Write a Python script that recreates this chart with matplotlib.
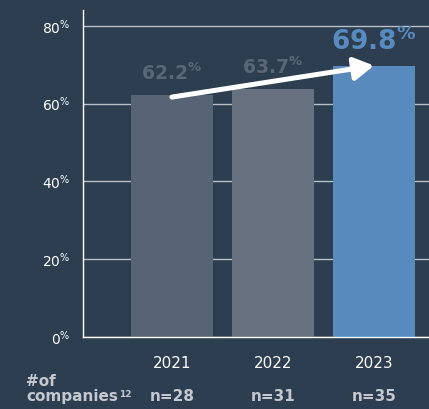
import matplotlib
matplotlib.use("Agg")
import matplotlib.pyplot as plt

# Share of companies per year
years = ["2021", "2022", "2023"]
shares = [62.2, 63.7, 69.8]
sample_sizes = ["n=28", "n=31", "n=35"]
y_ticks = [0, 20, 40, 60, 80]

BG = "#2c3e50"
bar_colors = ["#566475", "#67717f", "#588abd"]
label_colors = ["#5a6777", "#5a6777", "#5a8bc0"]
label_sizes = [13.5, 13.5, 19]
TEXT_GREY = "#c4c8ce"

plt.rcParams["font.family"] = ["DejaVu Sans"]

fig = plt.figure(figsize=(4.29, 4.09), dpi=100, facecolor=BG)
ax = fig.add_axes([0.1935, 0.176, 0.8065, 0.7996])
ax.set_facecolor(BG)

x = list(range(len(years)))
ax.bar(x, shares, width=0.812, color=bar_colors, zorder=3)

ax.set_xlim(-0.88, 2.545)
ax.set_ylim(0, 84.1)

# horizontal grid
ax.set_yticks(y_ticks)
ax.set_yticklabels([r"$\mathregular{%d^{\%%}}$" % t for t in y_ticks])
ax.yaxis.grid(True, color="#b9c0c8", linewidth=1.0, zorder=1)
ax.set_axisbelow(True)
ax.tick_params(axis="y", length=0, pad=9, labelsize=10, labelcolor="white")

ax.set_xticks(x)
ax.set_xticklabels(years)
ax.tick_params(axis="x", length=0, pad=14, labelsize=11, labelcolor="white")

for side in ["top", "right"]:
    ax.spines[side].set_visible(False)
for side in ["left", "bottom"]:
    ax.spines[side].set_color("white")
    ax.spines[side].set_linewidth(1.0)
    ax.spines[side].set_zorder(4)

# value labels above bars
for xi, v, c, s in zip(x, shares, label_colors, label_sizes):
    ax.annotate(r"$\mathregular{%.1f^{\%%}}$" % v, xy=(xi, v), xytext=(0, 11),
                textcoords="offset points", ha="center", va="baseline",
                color=c, fontsize=s, fontweight="bold", zorder=5)

# trend arrow from first to last bar
ax.annotate("", xy=(x[-1], shares[-1]), xytext=(x[0], shares[0] - 0.5),
            arrowprops=dict(arrowstyle="-|>,head_length=0.95,head_width=0.55",
                            color="white", lw=3.6, mutation_scale=12.5,
                            shrinkA=0, shrinkB=0),
            zorder=6)

# sample sizes under year labels
for xi, n in zip(x, sample_sizes):
    ax.text(xi, -0.183, n, transform=ax.get_xaxis_transform(), ha="center",
            va="center", color=TEXT_GREY, fontsize=11, fontweight="bold")

fig.text(26 / 429, 1 - 382 / 409, "#of", ha="left", va="center",
         color=TEXT_GREY, fontsize=11, fontweight="bold")
comp = fig.text(26 / 429, 1 - 397 / 409, "companies", ha="left", va="center",
                color=TEXT_GREY, fontsize=11, fontweight="bold")

# footnote marker placed right after "companies"
fig.canvas.draw()
bb = comp.get_window_extent().transformed(fig.transFigure.inverted())
fig.text(bb.x1 + 0.002, bb.y1 - 0.002, "12", ha="left", va="top",
         color=TEXT_GREY, fontsize=6.5, fontweight="bold")

fig.savefig("out.png", dpi=100, facecolor=BG)
